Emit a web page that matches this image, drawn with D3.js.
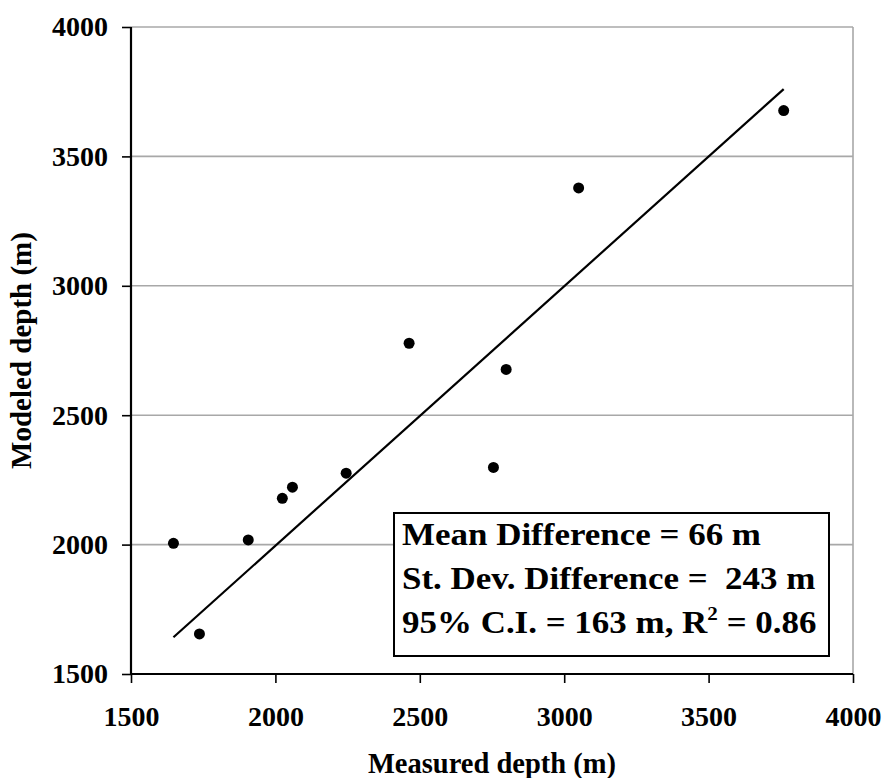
<!DOCTYPE html>
<html>
<head>
<meta charset="utf-8">
<script src="https://cdn.jsdelivr.net/npm/d3@7"></script>
<style>
  html, body { margin: 0; padding: 0; background: #fff; }
  svg text { font-family: "Liberation Serif", "Times New Roman", serif; font-weight: bold; fill: #000; }
</style>
</head>
<body>
<svg id="chart" width="885" height="778"></svg>
<script>
// ---- data ----
const measured = [1647, 1737, 1906, 2024, 2059, 2245, 2463, 2755, 2799, 3050, 3760];
const modeled  = [2005, 1655, 2018, 2179, 2222, 2276, 2778, 2298, 2677, 3378, 3677];
const fitX = [1647, 3760];
const fitY = [1642, 3760];
const xTicks = [1500, 2000, 2500, 3000, 3500, 4000];
const yTicks = [1500, 2000, 2500, 3000, 3500, 4000];
const xTitle = "Measured depth (m)";
const yTitle = "Modeled depth (m)";
const statLines = ["Mean Difference = 66 m", "St. Dev. Difference =  243 m"];

// ---- layout ----
const svg = d3.select("#chart");
const m = { left: 131, top: 27, right: 32, bottom: 104 };
const W = 885 - m.left - m.right;
const H = 778 - m.top - m.bottom;
const g = svg.append("g").attr("transform", `translate(${m.left},${m.top})`);

const x = d3.scaleLinear().domain([1500, 4000]).range([0, W]);
const y = d3.scaleLinear().domain([1500, 4000]).range([H, 0]);

// gridlines
g.append("g").selectAll("line").data(yTicks.filter(d => d > 1500)).join("line")
  .attr("x1", 0).attr("x2", W).attr("y1", d => y(d)).attr("y2", d => y(d))
  .attr("stroke", "#a8a8a8").attr("stroke-width", 1.6);
// right border
g.append("line").attr("x1", W).attr("x2", W).attr("y1", 0).attr("y2", H)
  .attr("stroke", "#a8a8a8").attr("stroke-width", 1.6);

// axes
const xAxis = g.append("g").attr("transform", `translate(0,${H})`)
  .call(d3.axisBottom(x).tickValues(xTicks).tickSize(9).tickPadding(23).tickFormat(d3.format("d")));
const yAxis = g.append("g")
  .call(d3.axisLeft(y).tickValues(yTicks).tickSize(9).tickPadding(14).tickFormat(d3.format("d")));
[xAxis, yAxis].forEach(a => {
  a.select(".domain").remove();
  a.selectAll("line").attr("stroke", "#000").attr("stroke-width", 1.6);
  a.selectAll("text").attr("font-size", 28).style("font-family", '"Liberation Serif", serif').style("font-weight", "bold");
});
g.append("line").attr("x1", 0).attr("x2", W).attr("y1", H).attr("y2", H).attr("stroke", "#000").attr("stroke-width", 2.2);
g.append("line").attr("x1", 0).attr("x2", 0).attr("y1", 0).attr("y2", H).attr("stroke", "#000").attr("stroke-width", 2.2);

// fit line
g.append("line")
  .attr("x1", x(fitX[0])).attr("y1", y(fitY[0]))
  .attr("x2", x(fitX[1])).attr("y2", y(fitY[1]))
  .attr("stroke", "#000").attr("stroke-width", 2.2);

// points
g.append("g").selectAll("circle").data(measured.map((d, i) => [d, modeled[i]])).join("circle")
  .attr("cx", d => x(d[0])).attr("cy", d => y(d[1])).attr("r", 5.5).attr("fill", "#000");

// stats box
const box = svg.append("g");
box.append("rect").attr("x", 394).attr("y", 513).attr("width", 435).attr("height", 143)
  .attr("fill", "#fff").attr("stroke", "#000").attr("stroke-width", 2);
const fs = 31.5;
const sx = 1.11;
const tg = box.append("g").attr("transform", `translate(402,0) scale(${sx},1)`);
statLines.forEach((t, i) => {
  tg.append("text").attr("x", 0).attr("y", 545 + i * 44).attr("font-size", fs)
    .style("white-space", "pre").text(t);
});
const t3 = tg.append("text").attr("x", 0).attr("y", 633).attr("font-size", fs).style("white-space", "pre");
t3.append("tspan").text("95% C.I. = 163 m, R");
t3.append("tspan").attr("dy", -13).attr("font-size", 19).text("2");
t3.append("tspan").attr("dy", 13).text(" = 0.86");

// axis titles
svg.append("text").attr("x", m.left + W / 2).attr("y", 773).attr("text-anchor", "middle")
  .attr("font-size", 28.5).text(xTitle);
svg.append("text").attr("transform", `translate(31,${m.top + H / 2}) rotate(-90)`)
  .attr("text-anchor", "middle").attr("font-size", 29).text(yTitle);
</script>
</body>
</html>
